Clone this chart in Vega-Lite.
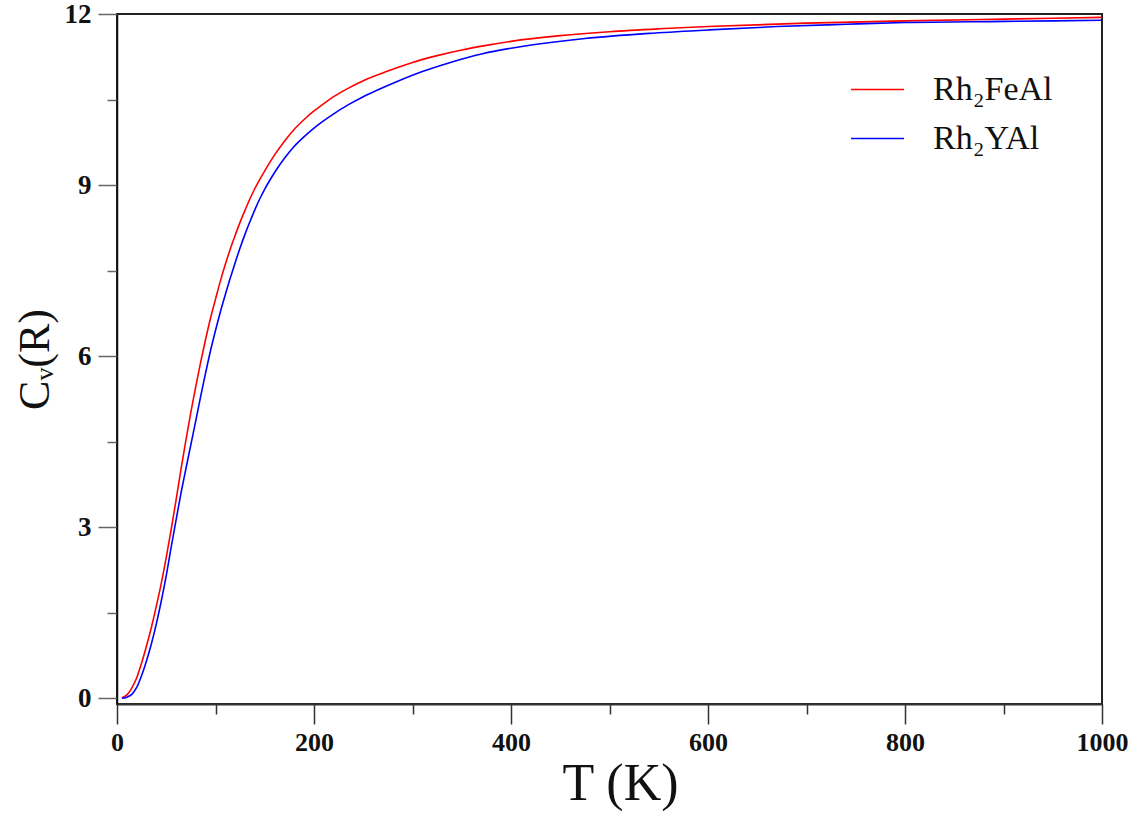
{
  "$schema": "https://vega.github.io/schema/vega-lite/v6.json",
  "width": 985,
  "height": 690,
  "autosize": {"type": "none"},
  "padding": {"left": 117, "top": 14, "right": 40, "bottom": 114},
  "background": "white",
  "config": {
    "view": {"stroke": "#222", "strokeWidth": 2},
    "font": "Liberation Serif",
    "axisX": {"tickSize": 20, "labelPadding": 5},
    "axisY": {"tickSize": 19, "labelPadding": 7}
  },
  "data": {
    "values": [
      {"T": 5, "Cv": 0.01, "s": "Rh₂FeAl"}, {"T": 10, "Cv": 0.06, "s": "Rh₂FeAl"}, {"T": 15, "Cv": 0.18, "s": "Rh₂FeAl"}, {"T": 20, "Cv": 0.36, "s": "Rh₂FeAl"},
      {"T": 25, "Cv": 0.62, "s": "Rh₂FeAl"}, {"T": 30, "Cv": 0.92, "s": "Rh₂FeAl"}, {"T": 35, "Cv": 1.25, "s": "Rh₂FeAl"}, {"T": 40, "Cv": 1.62, "s": "Rh₂FeAl"},
      {"T": 45, "Cv": 2.02, "s": "Rh₂FeAl"}, {"T": 50, "Cv": 2.47, "s": "Rh₂FeAl"}, {"T": 55, "Cv": 2.96, "s": "Rh₂FeAl"}, {"T": 60, "Cv": 3.48, "s": "Rh₂FeAl"},
      {"T": 65, "Cv": 4.02, "s": "Rh₂FeAl"}, {"T": 70, "Cv": 4.53, "s": "Rh₂FeAl"}, {"T": 75, "Cv": 5.02, "s": "Rh₂FeAl"}, {"T": 80, "Cv": 5.47, "s": "Rh₂FeAl"},
      {"T": 85, "Cv": 5.9, "s": "Rh₂FeAl"}, {"T": 90, "Cv": 6.3, "s": "Rh₂FeAl"}, {"T": 95, "Cv": 6.67, "s": "Rh₂FeAl"}, {"T": 100, "Cv": 7.0, "s": "Rh₂FeAl"},
      {"T": 105, "Cv": 7.32, "s": "Rh₂FeAl"}, {"T": 110, "Cv": 7.61, "s": "Rh₂FeAl"}, {"T": 115, "Cv": 7.88, "s": "Rh₂FeAl"}, {"T": 120, "Cv": 8.12, "s": "Rh₂FeAl"},
      {"T": 125, "Cv": 8.35, "s": "Rh₂FeAl"}, {"T": 130, "Cv": 8.56, "s": "Rh₂FeAl"}, {"T": 135, "Cv": 8.76, "s": "Rh₂FeAl"}, {"T": 140, "Cv": 8.94, "s": "Rh₂FeAl"},
      {"T": 145, "Cv": 9.1, "s": "Rh₂FeAl"}, {"T": 150, "Cv": 9.25, "s": "Rh₂FeAl"}, {"T": 160, "Cv": 9.53, "s": "Rh₂FeAl"}, {"T": 170, "Cv": 9.77, "s": "Rh₂FeAl"},
      {"T": 180, "Cv": 9.98, "s": "Rh₂FeAl"}, {"T": 190, "Cv": 10.15, "s": "Rh₂FeAl"}, {"T": 200, "Cv": 10.3, "s": "Rh₂FeAl"}, {"T": 210, "Cv": 10.43, "s": "Rh₂FeAl"},
      {"T": 220, "Cv": 10.55, "s": "Rh₂FeAl"}, {"T": 235, "Cv": 10.7, "s": "Rh₂FeAl"}, {"T": 250, "Cv": 10.83, "s": "Rh₂FeAl"}, {"T": 275, "Cv": 11.0, "s": "Rh₂FeAl"},
      {"T": 300, "Cv": 11.15, "s": "Rh₂FeAl"}, {"T": 325, "Cv": 11.27, "s": "Rh₂FeAl"}, {"T": 350, "Cv": 11.37, "s": "Rh₂FeAl"}, {"T": 375, "Cv": 11.45, "s": "Rh₂FeAl"},
      {"T": 400, "Cv": 11.52, "s": "Rh₂FeAl"}, {"T": 450, "Cv": 11.62, "s": "Rh₂FeAl"}, {"T": 500, "Cv": 11.69, "s": "Rh₂FeAl"}, {"T": 550, "Cv": 11.74, "s": "Rh₂FeAl"},
      {"T": 600, "Cv": 11.78, "s": "Rh₂FeAl"}, {"T": 700, "Cv": 11.84, "s": "Rh₂FeAl"}, {"T": 800, "Cv": 11.88, "s": "Rh₂FeAl"}, {"T": 900, "Cv": 11.91, "s": "Rh₂FeAl"},
      {"T": 1000, "Cv": 11.94, "s": "Rh₂FeAl"},
      {"T": 5, "Cv": 0.0, "s": "Rh₂YAl"}, {"T": 10, "Cv": 0.02, "s": "Rh₂YAl"}, {"T": 15, "Cv": 0.07, "s": "Rh₂YAl"}, {"T": 20, "Cv": 0.19, "s": "Rh₂YAl"},
      {"T": 25, "Cv": 0.4, "s": "Rh₂YAl"}, {"T": 30, "Cv": 0.66, "s": "Rh₂YAl"}, {"T": 35, "Cv": 0.96, "s": "Rh₂YAl"}, {"T": 40, "Cv": 1.31, "s": "Rh₂YAl"},
      {"T": 45, "Cv": 1.71, "s": "Rh₂YAl"}, {"T": 50, "Cv": 2.15, "s": "Rh₂YAl"}, {"T": 55, "Cv": 2.65, "s": "Rh₂YAl"}, {"T": 60, "Cv": 3.13, "s": "Rh₂YAl"},
      {"T": 65, "Cv": 3.6, "s": "Rh₂YAl"}, {"T": 70, "Cv": 4.03, "s": "Rh₂YAl"}, {"T": 75, "Cv": 4.45, "s": "Rh₂YAl"}, {"T": 80, "Cv": 4.87, "s": "Rh₂YAl"},
      {"T": 85, "Cv": 5.3, "s": "Rh₂YAl"}, {"T": 90, "Cv": 5.71, "s": "Rh₂YAl"}, {"T": 95, "Cv": 6.1, "s": "Rh₂YAl"}, {"T": 100, "Cv": 6.45, "s": "Rh₂YAl"},
      {"T": 105, "Cv": 6.78, "s": "Rh₂YAl"}, {"T": 110, "Cv": 7.08, "s": "Rh₂YAl"}, {"T": 115, "Cv": 7.37, "s": "Rh₂YAl"}, {"T": 120, "Cv": 7.64, "s": "Rh₂YAl"},
      {"T": 125, "Cv": 7.9, "s": "Rh₂YAl"}, {"T": 130, "Cv": 8.14, "s": "Rh₂YAl"}, {"T": 135, "Cv": 8.36, "s": "Rh₂YAl"}, {"T": 140, "Cv": 8.57, "s": "Rh₂YAl"},
      {"T": 145, "Cv": 8.76, "s": "Rh₂YAl"}, {"T": 150, "Cv": 8.93, "s": "Rh₂YAl"}, {"T": 155, "Cv": 9.08, "s": "Rh₂YAl"}, {"T": 160, "Cv": 9.22, "s": "Rh₂YAl"},
      {"T": 170, "Cv": 9.47, "s": "Rh₂YAl"}, {"T": 180, "Cv": 9.68, "s": "Rh₂YAl"}, {"T": 190, "Cv": 9.85, "s": "Rh₂YAl"}, {"T": 200, "Cv": 10.0, "s": "Rh₂YAl"},
      {"T": 210, "Cv": 10.13, "s": "Rh₂YAl"}, {"T": 220, "Cv": 10.25, "s": "Rh₂YAl"}, {"T": 235, "Cv": 10.41, "s": "Rh₂YAl"}, {"T": 250, "Cv": 10.55, "s": "Rh₂YAl"},
      {"T": 265, "Cv": 10.67, "s": "Rh₂YAl"}, {"T": 285, "Cv": 10.82, "s": "Rh₂YAl"}, {"T": 310, "Cv": 10.99, "s": "Rh₂YAl"}, {"T": 340, "Cv": 11.16, "s": "Rh₂YAl"},
      {"T": 370, "Cv": 11.3, "s": "Rh₂YAl"}, {"T": 400, "Cv": 11.4, "s": "Rh₂YAl"}, {"T": 440, "Cv": 11.5, "s": "Rh₂YAl"}, {"T": 475, "Cv": 11.57, "s": "Rh₂YAl"},
      {"T": 540, "Cv": 11.66, "s": "Rh₂YAl"}, {"T": 600, "Cv": 11.72, "s": "Rh₂YAl"}, {"T": 670, "Cv": 11.78, "s": "Rh₂YAl"}, {"T": 740, "Cv": 11.82, "s": "Rh₂YAl"},
      {"T": 800, "Cv": 11.85, "s": "Rh₂YAl"}, {"T": 900, "Cv": 11.87, "s": "Rh₂YAl"}, {"T": 1000, "Cv": 11.89, "s": "Rh₂YAl"}
    ]
  },
  "mark": {"type": "line", "strokeWidth": 1.6, "interpolate": "monotone", "clip": true},
  "encoding": {
    "x": {
      "field": "T", "type": "quantitative",
      "scale": {"domain": [0, 1000], "nice": false, "zero": false},
      "axis": {
        "title": "T (K)",
        "titleFontSize": 52, "titleFontWeight": "normal", "titleColor": "#111", "titlePadding": 3,
        "titleX": 503,
        "values": [0, 100, 200, 300, 400, 500, 600, 700, 800, 900, 1000],
        "labelExpr": "datum.value % 200 === 0 ? datum.label : ''",
        "format": "d",
        "tickSize": 20,
        "tickDash": {"condition": {"test": "datum.value % 200 !== 0", "value": [10, 40]}, "value": []},
        "tickColor": "#333", "tickWidth": 1.5,
        "domainColor": "#333", "domainWidth": 2,
        "labelFontSize": 26, "labelFontWeight": "bold", "labelColor": "#111", "labelPadding": 5,
        "labelFlush": false, "labelOverlap": false,
        "grid": false
      }
    },
    "y": {
      "field": "Cv", "type": "quantitative",
      "scale": {"domain": [-0.1, 12], "nice": false, "zero": false},
      "axis": {
        "title": "Cᵥ(R)",
        "titleFontSize": 44, "titleFontWeight": "normal", "titleColor": "#111", "titlePadding": 7,
        "values": [0, 1.5, 3, 4.5, 6, 7.5, 9, 10.5, 12],
        "labelExpr": "datum.value % 3 === 0 ? datum.label : ''",
        "tickSize": 19,
        "tickDash": {"condition": {"test": "datum.value % 3 !== 0", "value": [10, 40]}, "value": []},
        "tickColor": "#666", "tickWidth": 1.5,
        "domainColor": "#111", "domainWidth": 1.5,
        "labelFontSize": 27, "labelFontWeight": "bold", "labelColor": "#111", "labelPadding": 7,
        "labelFlush": false, "labelOverlap": false,
        "grid": false
      }
    },
    "color": {
      "field": "s", "type": "nominal",
      "scale": {"domain": ["Rh₂FeAl", "Rh₂YAl"], "range": ["#ff0000", "#0000ff"]},
      "legend": {
        "title": null,
        "orient": "none",
        "legendX": 733,
        "legendY": 48,
        "symbolType": "stroke",
        "symbolSize": 2800,
        "symbolStrokeWidth": 1.6,
        "labelFontSize": 34,
        "labelColor": "#111",
        "labelOffset": 28,
        "rowPadding": 4
      }
    }
  }
}
